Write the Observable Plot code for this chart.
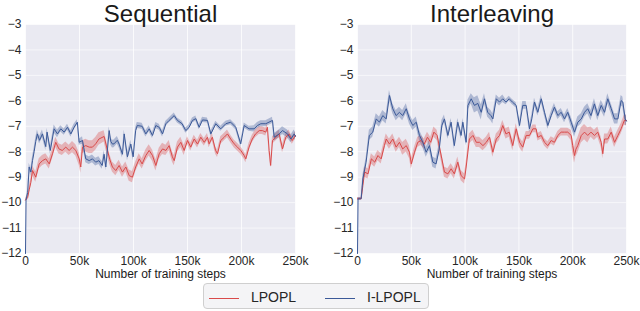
<!DOCTYPE html>
<html><head><meta charset="utf-8">
<script src="https://cdn.jsdelivr.net/npm/d3@7"></script>
<script src="https://cdn.jsdelivr.net/npm/@observablehq/plot@0.6"></script>
<style>
body{margin:0;background:#fff;font-family:"Liberation Sans",Arial,sans-serif;}
#wrap{position:relative;width:640px;height:311px;overflow:hidden;}
.panel{position:absolute;top:0;}
#legend{position:absolute;left:203px;top:283px;width:226px;height:26px;box-sizing:border-box;border:1px solid #cfcfcf;border-radius:4px;background:#f4f4f6;font-size:14px;color:#262626;}
#legend .it{position:absolute;top:4px;height:18px;line-height:18px;}
#legend .sw{display:inline-block;width:30px;height:0;border-top:1px solid;vertical-align:middle;margin-right:12px;}
</style></head>
<body><div id="wrap"><div id="left" class="panel" style="left:0"></div><div id="right" class="panel" style="left:320px"></div>
<div id="legend"></div></div>
<script>
// categories
const seriesNames = ["LPOPL", "I-LPOPL"];
const seriesColors = ["#d94a4a", "#3b5998"];
const panelTitles = ["Sequential", "Interleaving"];
const xLabel = "Number of training steps";
const xTicks = [0, 50, 100, 150, 200, 250];   // thousands of steps
const yTicks = [-3, -4, -5, -6, -7, -8, -9, -10, -11, -12];

// [step (k), mean reward, half band width]
const seqLpopl = [[0,-9.9,.05],[2,-9.8,.1],[3.4,-9.5,.15],[5,-9.2,.15],[6.5,-8.74,.2],[9.5,-9.0,.2],[12.7,-8.48,.2],[15.7,-8.35,.2],[18.8,-8.28,.2],[22,-8.48,.2],[25,-8.08,.2],[28,-7.63,.2],[31,-7.89,.2],[34,-7.95,.2],[37.3,-7.82,.2],[40.4,-7.95,.2],[43.5,-7.82,.22],[46.6,-7.95,.22],[49.7,-8.28,.25],[51.2,-8.6,.25],[52.8,-7.82,.25],[55.8,-7.76,.25],[59,-7.82,.25],[62,-7.82,.25],[65,-7.69,.25],[68,-7.5,.25],[72.8,-7.4,.22],[75.9,-7.95,.22],[78,-8.3,.2],[80.5,-8.6,.2],[83.6,-8.74,.2],[86.7,-8.54,.2],[89.8,-8.8,.2],[92.9,-8.6,.2],[96,-8.94,.22],[99,-9.0,.22],[102,-8.6,.2],[105.3,-8.28,.2],[108,-8.48,.2],[111.4,-8.15,.22],[114.5,-7.95,.22],[117.6,-8.15,.22],[120.7,-8.54,.22],[123.8,-8.08,.22],[126.9,-7.89,.22],[130,-7.95,.2],[133,-7.76,.2],[136,-8.2,.2],[137.7,-8.35,.2],[140.7,-7.82,.2],[143.8,-7.63,.2],[146.9,-7.95,.2],[150,-7.56,.15],[153,-7.82,.15],[156.2,-7.5,.15],[159.3,-7.7,.15],[162.3,-7.43,.15],[165.5,-7.63,.15],[168.5,-7.43,.15],[170,-7.69,.15],[173,-7.43,.15],[176,-7.95,.15],[177.8,-8.08,.15],[180.8,-7.56,.15],[184,-7.43,.15],[187,-7.3,.15],[190,-7.5,.15],[193.2,-7.69,.15],[196.3,-7.82,.15],[199.3,-7.95,.15],[202.5,-8.15,.15],[204,-8.28,.15],[207,-7.82,.15],[210,-7.5,.15],[213,-7.3,.15],[216.4,-7.17,.15],[219.4,-7.17,.15],[222.5,-7.23,.15],[224,-7.04,.15],[225.6,-7.95,.15],[227,-8.54,.1],[228.7,-7.56,.15],[231.8,-7.43,.15],[234.9,-7.3,.15],[238,-7.89,.15],[241,-7.43,.15],[244,-7.3,.15],[247,-7.56,.15],[250,-7.36,.15]];

const seqIlpopl = [[0,-12,0],[0.5,-9.9,.05],[2,-9.6,.1],[3.4,-8.6,.15],[5,-8.8,.15],[6.5,-8.35,.15],[8,-8.0,.15],[9.5,-7.6,.15],[11,-7.3,.15],[13,-7.55,.15],[15.7,-7.3,.15],[18.8,-7.8,.15],[20,-7.23,.15],[23,-7.95,.15],[26.5,-7.1,.15],[29.6,-7.3,.15],[32.7,-7.1,.12],[35.8,-7.23,.12],[38.9,-7.04,.12],[42,-7.3,.12],[45,-7.04,.12],[48,-6.84,.1],[49.7,-7.63,.12],[52.8,-7.56,.15],[55.8,-8.28,.15],[59,-8.35,.15],[62,-8.28,.15],[65,-8.41,.15],[68,-8.35,.15],[71,-8.54,.15],[72.8,-8.1,.15],[74.4,-8.6,.15],[77.5,-7.17,.15],[79,-7.6,.15],[80.5,-7.7,.15],[82,-7.69,.15],[85,-7.55,.15],[86.7,-7.7,.15],[89.8,-8.1,.15],[91.4,-7.3,.15],[94.4,-8.2,.15],[97.5,-7.7,.15],[99.7,-8.2,.15],[102,-7.17,.12],[103.5,-6.97,.12],[108,-7.0,.12],[111.4,-7.3,.12],[114.5,-7.1,.12],[117.6,-7.36,.12],[120.7,-6.97,.12],[123.8,-7.04,.12],[126.9,-7.3,.12],[130,-6.9,.1],[133,-6.77,.1],[137.7,-6.58,.1],[140.7,-6.77,.1],[145,-6.9,.1],[148.4,-7.17,.1],[151.5,-7.04,.1],[154.6,-6.77,.1],[157.7,-6.7,.1],[160.8,-7.04,.1],[163.9,-6.75,.1],[168.5,-6.77,.1],[171.6,-7.3,.1],[176.2,-6.9,.1],[180.8,-7.1,.1],[185.5,-6.9,.1],[190,-6.84,.1],[194.7,-7.04,.1],[199.3,-7.69,.12],[202.5,-6.97,.1],[207,-7.1,.1],[211.7,-7.1,.12],[214.8,-6.97,.12],[217.9,-6.9,.12],[222.5,-6.9,.12],[228.7,-6.77,.12],[230.3,-7.43,.15],[234.9,-7.3,.15],[238,-7.17,.15],[242.6,-7.3,.15],[245.7,-7.5,.15],[248.8,-7.3,.15],[250,-7.4,.15]];

const intLpopl = [[0,-9.85,.05],[3.4,-9.85,.05],[5,-9.33,.15],[6.6,-8.8,.2],[9.8,-8.87,.2],[12.9,-8.28,.2],[16,-8.41,.2],[19,-8.15,.2],[22,-8.28,.2],[25,-7.76,.2],[26.7,-7.5,.2],[29.7,-7.7,.2],[32.8,-7.5,.2],[35.9,-7.82,.2],[39,-7.63,.2],[42,-7.89,.25],[45.3,-7.76,.25],[48.3,-8.02,.25],[50,-8.48,.2],[53,-8.02,.2],[56,-7.63,.2],[59,-7.56,.2],[62,-7.7,.2],[65,-7.43,.2],[68,-7.63,.2],[71,-7.23,.2],[74,-7.36,.2],[78.4,-8.28,.2],[80.8,-8.8,.2],[84,-8.87,.2],[87,-8.67,.2],[90,-8.87,.2],[93.2,-8.41,.2],[96.3,-8.94,.2],[99.5,-9.07,.2],[101,-8.6,.2],[104,-7.5,.2],[107.3,-7.36,.2],[110.4,-7.63,.2],[113.4,-7.63,.2],[116.6,-7.76,.2],[119.7,-7.63,.2],[122.7,-7.43,.2],[125.8,-8.02,.2],[129,-7.5,.2],[132,-7.36,.2],[135,-6.97,.2],[138,-7.3,.2],[141,-7.23,.2],[144.3,-7.76,.2],[147.5,-7.1,.2],[150.6,-7.63,.2],[153.6,-7.82,.2],[156.8,-7.36,.15],[159.9,-7.36,.15],[163,-7.1,.15],[166,-7.1,.15],[167.6,-7.43,.15],[170.8,-7.36,.15],[173.8,-7.63,.15],[176.9,-7.76,.15],[180,-7.56,.15],[183,-7.63,.15],[186.2,-7.36,.15],[189.3,-7.23,.15],[192.4,-7.23,.15],[195.4,-7.23,.15],[198.6,-7.36,.2],[200,-7.76,.3],[201.7,-8.15,.3],[203,-7.9,.3],[204.7,-7.76,.3],[208,-7.36,.3],[211,-7.23,.3],[214,-7.36,.3],[217,-7.23,.2],[220.2,-7.36,.2],[223.3,-7.23,.2],[226.5,-7.63,.2],[228,-8.08,.2],[229.6,-7.5,.2],[232.6,-7.5,.2],[235.8,-7.23,.2],[238.9,-7.63,.2],[242,-7.36,.2],[245,-7.1,.2],[248,-6.77,.2],[250,-6.77,.2]];

const intIlpopl = [[0,-12,0],[0.5,-9.85,.05],[3.4,-9.85,.05],[5,-9.07,.15],[8,-8.41,.15],[11,-7.36,.2],[14.2,-7.23,.2],[17.4,-6.71,.2],[20.4,-6.84,.2],[23.5,-6.58,.2],[26.7,-6.71,.2],[29.7,-5.79,.2],[32.8,-6.31,.2],[35.9,-6.58,.2],[39,-6.45,.2],[42,-6.58,.2],[45.3,-6.31,.2],[48.3,-6.71,.2],[51.4,-6.97,.2],[54.6,-6.84,.2],[57.6,-7.36,.2],[60.7,-7.63,.2],[63.8,-8.02,.2],[66.9,-7.76,.2],[70,-8.41,.2],[73,-8.48,.2],[76,-7.89,.2],[78.4,-6.97,.2],[80.8,-6.71,.15],[84,-7.36,.15],[87,-6.84,.15],[90,-7.76,.15],[93.2,-6.84,.15],[96.3,-7.36,.15],[97.9,-6.84,.15],[101,-7.63,.15],[102.6,-6.18,.2],[105.7,-5.92,.2],[108.7,-6.18,.3],[111.8,-6.1,.3],[115,-6.45,.3],[118,-5.92,.2],[121,-6.45,.2],[124,-6.58,.2],[125.8,-6.71,.2],[129,-5.92,.15],[132,-6.05,.15],[135,-5.92,.15],[138,-6.05,.1],[141,-5.92,.1],[144,-6.05,.1],[147.5,-6.18,.1],[150.6,-6.97,.15],[153.6,-6.18,.15],[156.8,-6.18,.15],[159.9,-7.1,.15],[162,-6.71,.15],[164.5,-6.05,.15],[167.6,-6.45,.15],[170.8,-5.92,.15],[173.8,-6.45,.15],[176.9,-6.97,.15],[180,-6.58,.15],[183,-6.25,.15],[186.2,-6.58,.15],[189.3,-6.45,.15],[192.4,-6.71,.15],[195.4,-6.45,.15],[198.6,-6.84,.2],[201.7,-7.23,.2],[204.7,-6.84,.2],[208,-6.71,.2],[211,-6.45,.2],[214,-6.31,.2],[217,-6.58,.2],[220.2,-6.12,.2],[223.3,-6.58,.2],[226.5,-6.18,.2],[229.6,-6.45,.2],[232.6,-5.92,.2],[235.8,-6.31,.2],[238.9,-6.71,.2],[242,-6.71,.2],[245,-5.99,.2],[246.6,-6.05,.2],[248.8,-6.71,.2],[250,-6.8,.2]];

function toRows(arr, name) {
  return arr.map(d => ({series: name, x: d[0], y: d[1], lo: d[1] - d[2], hi: d[1] + d[2]}));
}

function panel(title, red, blue, ml, mr) {
  const rows = [...toRows(red, seriesNames[0]), ...toRows(blue, seriesNames[1])];
  return Plot.plot({
    width: 320, height: 290,
    marginLeft: ml, marginRight: mr, marginTop: 24, marginBottom: 37,
    style: {fontFamily: "'Liberation Sans', Arial, sans-serif", fontSize: "12px", color: "#262626", background: "transparent", overflow: "visible"},
    x: {domain: [0, 250]},
    y: {domain: [-12, -3]},
    color: {domain: seriesNames, range: seriesColors},
    marks: [
      Plot.frame({fill: "#eaeaf2", stroke: "none"}),
      Plot.gridX(xTicks, {stroke: "#ffffff", strokeOpacity: 0.75, strokeWidth: 1}),
      Plot.gridY(yTicks, {stroke: "#ffffff", strokeOpacity: 0.6, strokeWidth: 1}),
      Plot.areaY(rows, {x: "x", y1: "lo", y2: "hi", z: "series", fill: "series", fillOpacity: 0.35, curve: "linear"}),
      Plot.lineY(rows, {x: "x", y: "y", z: "series", stroke: "series", strokeWidth: 1}),
      Plot.axisX(xTicks, {tickSize: 0, tickPadding: 3, label: null, fontSize: 12, tickFormat: d => d === 0 ? "0" : d + "k"}),
      Plot.axisY(yTicks, {tickSize: 0, tickPadding: 4, label: null, fontSize: 12, tickFormat: d => String(d).replace("-", "\u2212")}),
      Plot.text([title], {frameAnchor: "top", dy: -3, lineAnchor: "bottom", fontSize: 24, fill: "#1a1a1a"}),
      Plot.text([xLabel], {frameAnchor: "bottom", dy: 16, lineAnchor: "top", fontSize: 12, fill: "#1a1a1a"})
    ]
  });
}

document.getElementById("left").appendChild(panel(panelTitles[0], seqLpopl, seqIlpopl, 25, 25));
document.getElementById("right").appendChild(panel(panelTitles[1], intLpopl, intIlpopl, 37, 14));

const lg = document.getElementById("legend");
const pos = [[5, 0], [121, 0]];
seriesNames.forEach((n, i) => {
  const it = document.createElement("div");
  it.className = "it";
  it.style.left = pos[i][0] + "px";
  it.innerHTML = `<span class="sw" style="border-color:${seriesColors[i]}"></span>${n}`;
  lg.appendChild(it);
});
</script></body></html>
